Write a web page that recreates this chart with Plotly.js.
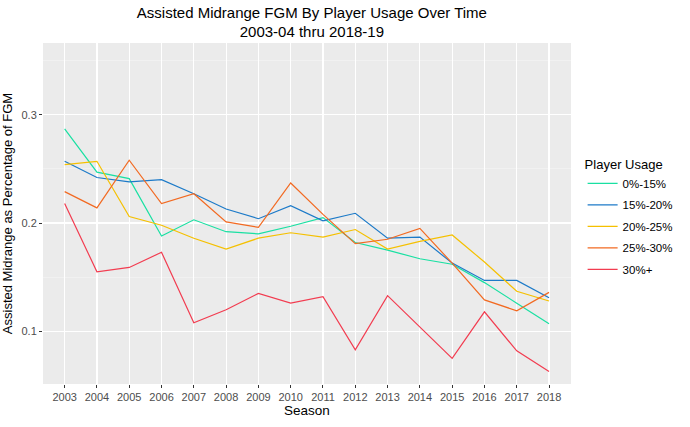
<!DOCTYPE html>
<html>
<head>
<meta charset="utf-8">
<script src="https://cdn.plot.ly/plotly-3.0.1.min.js"></script>
<style>html,body{margin:0;padding:0;background:#fff;}#chart{width:690px;height:427px;}</style>
</head>
<body>
<div id="chart"></div>
<script>
var seasons = [2003,2004,2005,2006,2007,2008,2009,2010,2011,2012,2013,2014,2015,2016,2017,2018];
var usage0to15  = [0.287,0.247,0.241,0.188,0.203,0.192,0.190,0.197,0.205,0.182,0.175,0.167,0.162,0.145,0.126,0.107];
var usage15to20 = [0.257,0.242,0.238,0.240,0.227,0.213,0.204,0.216,0.202,0.209,0.186,0.187,0.163,0.147,0.147,0.131];
var usage20to25 = [0.254,0.257,0.206,0.198,0.186,0.176,0.186,0.191,0.187,0.194,0.176,0.183,0.189,0.164,0.137,0.128];
var usage25to30 = [0.229,0.214,0.258,0.218,0.227,0.201,0.196,0.237,0.208,0.181,0.185,0.195,0.163,0.129,0.119,0.136];
var usage30plus = [0.218,0.155,0.159,0.173,0.108,0.120,0.135,0.126,0.132,0.083,0.133,0.104,0.075,0.118,0.082,0.063];
var seriesNames = ['0%-15%','15%-20%','20%-25%','25%-30%','30%+'];
var seriesColors = ['#19E0A2','#1C7AC8','#F5C000','#F26A22','#F23C50'];
var seriesData = [usage0to15, usage15to20, usage20to25, usage25to30, usage30plus];

var traces = seriesData.map(function(d,i){
  return {x: seasons, y: d, type:'scatter', mode:'lines', name: seriesNames[i],
          legendgroup: 'g' + i,
          line:{color: seriesColors[i], width:1.2}};
});

var layout = {
  width:690, height:427,
  paper_bgcolor:'#ffffff', plot_bgcolor:'#EBEBEB',
  margin:{l:43, r:108, t:43, b:43},
  font:{family:'Liberation Sans, Arial, sans-serif', color:'#000'},
  title:{text:'Assisted Midrange FGM By Player Usage Over Time<br>2003-04 thru 2018-19',
         font:{size:15, color:'#000'}, x:0.452, xanchor:'center', y:0.958, yanchor:'top'},
  xaxis:{range:[2002.33, 2018.68], tickmode:'array', tickvals:seasons, ticktext:seasons.map(String),
         showgrid:true, gridcolor:'#ffffff', gridwidth:1.2, zeroline:false,
         ticks:'outside', ticklen:3, tickcolor:'#333', tickfont:{size:11, color:'#4D4D4D'},
         title:{text:'Season', font:{size:13.5, color:'#000'}, standoff:3}},
  yaxis:{range:[0.0514, 0.3662], tickmode:'array', tickvals:[0.1,0.2,0.3], ticktext:['0.1','0.2','0.3'],
         showgrid:true, gridcolor:'#ffffff', gridwidth:1.2, zeroline:false,
         minor:{tickvals:[0.05,0.15,0.25,0.35], showgrid:true, gridcolor:'#F5F5F5', gridwidth:0.6},
         ticks:'outside', ticklen:3, tickcolor:'#333', tickfont:{size:11, color:'#4D4D4D'},
         title:{text:'Assisted Midrange as Percentage of FGM', font:{size:13, color:'#000'}, standoff:5}},
  showlegend:true,
  legend:{x:1.022, xanchor:'left', y:0.487, yanchor:'middle', bgcolor:'rgba(0,0,0,0)',
          title:{text:'Player Usage', font:{size:13, color:'#000'}},
          font:{size:11.5, color:'#000'}, tracegroupgap:2.5}
};
Plotly.newPlot('chart', traces, layout, {staticPlot:true, displayModeBar:false});
</script>
</body>
</html>
